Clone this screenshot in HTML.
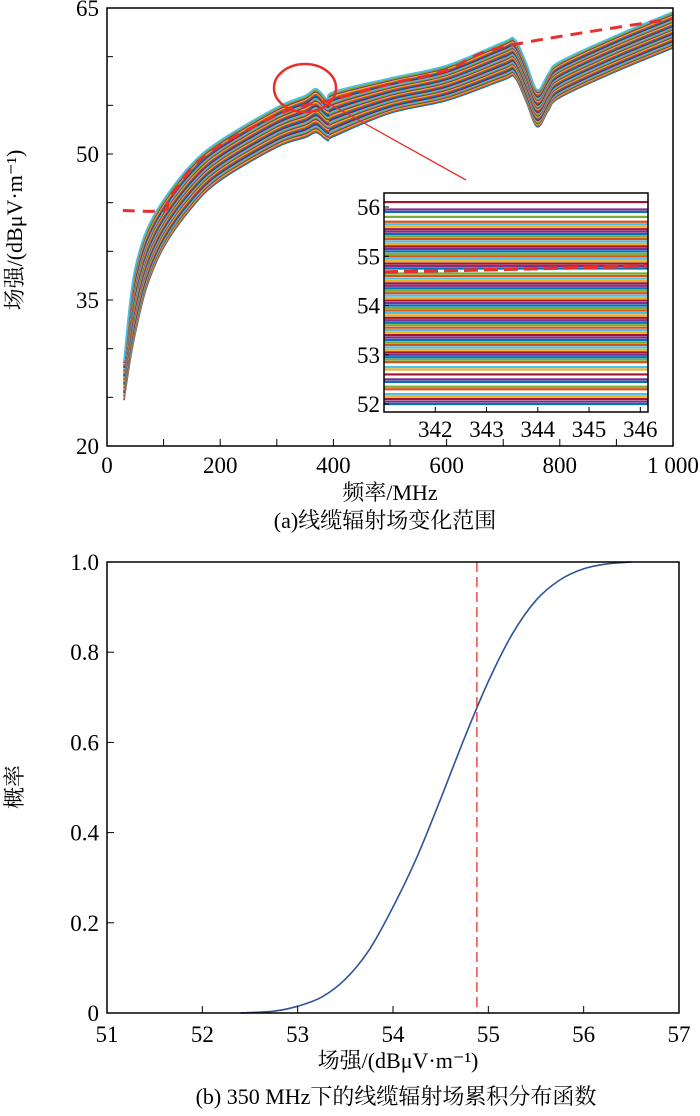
<!DOCTYPE html>
<html><head><meta charset="utf-8">
<style>
html,body{margin:0;padding:0;background:#fff;}
svg{display:block;}
text{font-family:"Liberation Serif","Noto Serif CJK SC",serif;}
</style></head>
<body>
<svg id="fig" width="700" height="1116" viewBox="0 0 700 1116" xmlns="http://www.w3.org/2000/svg" font-family="Liberation Serif, Noto Serif CJK SC, serif">
<g id="top"></g>
<g id="bot"></g>
</svg>
<script>
// ---------- Top chart data ----------
const freqs   = [30,40,50,70,100,150,200,300,350,370,390,400,500,600,700,720,740,760,780,800,900,1000];
const upperDb = [28.8,34.5,38.4,42.2,45.3,49,51.4,54.8,56.0,56.7,55.6,56.4,57.8,59.1,61.5,61.8,59.5,56.6,58.3,59.5,62.2,64.6];
const lowerDb = [24.7,28.5,31.6,36.3,40.4,44.5,47.3,50.7,51.7,52.2,51.4,51.8,54.2,55.5,57.6,57.9,55.5,52.8,54.5,55.8,58.5,60.9];
const curveFractions = [0,0.03,0.06,0.09,0.12,0.15,0.18,0.21,0.24,0.27,0.3,0.33,0.36,0.39,0.42,0.45,0.48,0.51,0.54,0.57,0.6,0.63,0.66,0.69,0.72,0.75,0.78,0.81,0.84,0.87,0.9,0.93,0.96,1];
const meanFreq = [28,100,110,150,200,300,350,400,500,600,700,1000];
const meanDb   = [44.2,44.2,45.4,48.6,50.9,54,55,55.6,57.2,58.6,61.0,63.9];
const yTicks = [20,35,50,65];
const xTicks = [0,200,400,600,800,1000];
const xTickLabels = ["0","200","400","600","800","1 000"];
// inset
const insetLines = [52.0,52.05,52.1,52.15,52.2,52.3,52.35,52.45,52.5,52.6,52.7,52.75,52.85,52.9,52.95,53.0,53.05,53.1,53.15,53.2,53.25,53.3,53.35,53.4,53.45,53.5,53.55,53.6,53.65,53.7,53.75,53.8,53.85,53.9,53.95,54.0,54.05,54.1,54.15,54.2,54.25,54.3,54.35,54.4,54.45,54.5,54.55,54.6,54.65,54.75,54.8,54.85,54.9,54.95,55.0,55.05,55.1,55.15,55.2,55.25,55.3,55.35,55.4,55.45,55.5,55.55,55.6,55.65,55.7,55.8,55.9,55.95,56.1];
const insetMean = [54.68,54.8];
const insetXTicks = [342,343,344,345,346];
const insetYTicks = [52,53,54,55,56];
// ---------- Bottom chart data ----------
const cdfX = [52.4,52.75,53.0,53.25,53.5,53.75,54.0,54.25,54.5,54.75,55.0,55.25,55.5,55.75,56.0,56.25,56.5];
const cdfP = [0,0.004,0.015,0.035,0.075,0.14,0.235,0.345,0.475,0.61,0.735,0.84,0.915,0.96,0.985,0.996,1.0];
const meanLevel = 54.88;
const bXTicks = [51,52,53,54,55,56,57];
const bYTicks = [0,0.2,0.4,0.6,0.8,1.0];
const bYLabels = ["0","0.2","0.4","0.6","0.8","1.0"];

const NS="http://www.w3.org/2000/svg";
const palette=["#0072BD","#D95319","#EDB120","#7E2F8E","#77AC30","#4DBEEE","#A2142F"];
function mk(parent,tag,attrs,text){const e=document.createElementNS(NS,tag);for(const k in attrs)e.setAttribute(k,attrs[k]);if(text!==undefined)e.textContent=text;parent.appendChild(e);return e;}
function crPath(pts){let d="M"+pts[0][0].toFixed(1)+","+pts[0][1].toFixed(1);
 for(let i=0;i<pts.length-1;i++){const p0=pts[Math.max(0,i-1)],p1=pts[i],p2=pts[i+1],p3=pts[Math.min(pts.length-1,i+2)];
  const c1=[p1[0]+(p2[0]-p0[0])/6,p1[1]+(p2[1]-p0[1])/6],c2=[p2[0]-(p3[0]-p1[0])/6,p2[1]-(p3[1]-p1[1])/6];
  d+=" C"+c1[0].toFixed(1)+","+c1[1].toFixed(1)+" "+c2[0].toFixed(1)+","+c2[1].toFixed(1)+" "+p2[0].toFixed(1)+","+p2[1].toFixed(1);}
 return d;}
const FS=23;

// ---------- Top ----------
const T=document.getElementById('top');
const L=107,R=673,Tp=8,B=446;
const xs=f=>L+(f/1000)*(R-L), ys=v=>B-(v-20)/45*(B-Tp);
const curves=mk(T,'g',{});


curveFractions.forEach((fr,i)=>{
 const pts=freqs.map((f,j)=>[xs(f),ys(lowerDb[j]+fr*(upperDb[j]-lowerDb[j]))]);
 const p=mk(curves,'path',{d:crPath(pts),fill:'none',stroke:palette[i%7],'stroke-width':1.6});
 
 
});
const mp=mk(T,'path',{d:crPath(meanFreq.map((f,j)=>[xs(f),ys(meanDb[j])])),fill:'none',stroke:'#E8302A','stroke-width':3,'stroke-dasharray':'12,8'});


mk(T,'rect',{x:L,y:Tp,width:R-L,height:B-Tp,fill:'none',stroke:'#000','stroke-width':1.5,});
for(let v=20;v<=65;v+=5){mk(T,'line',{x1:L,x2:L+6,y1:ys(v),y2:ys(v),stroke:'#000','stroke-width':1});}
yTicks.forEach(v=>{const t=mk(T,'text',{x:L-8,y:ys(v)+8,'text-anchor':'end','font-size':FS},String(v));});
for(let f=0;f<=1000;f+=100){mk(T,'line',{x1:xs(f),x2:xs(f),y1:B,y2:B-7,stroke:'#000','stroke-width':1});}
xTicks.forEach((f,i)=>{const t=mk(T,'text',{x:xs(f),y:B+27,'text-anchor':'middle','font-size':FS},xTickLabels[i]);});
mk(T,'text',{x:0,y:0,transform:'translate(22,230) rotate(-90)','text-anchor':'middle','font-size':22,},'场强/(dBμV·m⁻¹)');
mk(T,'text',{x:390,y:500,'text-anchor':'middle','font-size':22,},'频率/MHz');
mk(T,'text',{x:385,y:528,'text-anchor':'middle','font-size':22,},'(a)线缆辐射场变化范围');
// zoom marker
mk(T,'ellipse',{cx:305,cy:88,rx:31,ry:24,fill:'none',stroke:'#E8302A','stroke-width':2.5,});
mk(T,'line',{x1:328,y1:103,x2:466,y2:180,stroke:'#E8302A','stroke-width':1.3,});
// inset
const IL=384,IR=648,IT=193,IB=412;
const ixs=f=>IL+(f-341.0)*(IR-IL)/5.15, iys=v=>404-(v-52)*49.25;
mk(T,'rect',{x:IL,y:IT,width:IR-IL,height:IB-IT,fill:'#fff',stroke:'none'});
const il=mk(T,'g',{});


insetLines.forEach((v,i)=>{const e=mk(il,'line',{x1:IL,x2:IR,y1:iys(v),y2:iys(v),stroke:palette[(i*3)%7],'stroke-width':2.2});
 
 });
mk(T,'line',{x1:ixs(341.0),x2:ixs(346.15),y1:iys(insetMean[0]),y2:iys(insetMean[1]),stroke:'#E8302A','stroke-width':3.5,'stroke-dasharray':'14,6',});
mk(T,'rect',{x:IL,y:IT,width:IR-IL,height:IB-IT,fill:'none',stroke:'#000','stroke-width':1.5,});
insetYTicks.forEach(v=>{mk(T,'line',{x1:IL,x2:IL+5,y1:iys(v),y2:iys(v),stroke:'#000'});
 const t=mk(T,'text',{x:IL-4,y:iys(v)+8,'text-anchor':'end','font-size':FS},String(v));});
insetXTicks.forEach(v=>{mk(T,'line',{x1:ixs(v),x2:ixs(v),y1:IB,y2:IB-5,stroke:'#000'});
 const t=mk(T,'text',{x:ixs(v),y:IB+25,'text-anchor':'middle','font-size':FS},String(v));});

// ---------- Bottom ----------
const Bg=document.getElementById('bot');
const bL=107,bR=679,bT=562,bB=1013;
const bx=v=>bL+(v-51)/6*(bR-bL), by=p=>bB-p*(bB-bT);
const cp=mk(Bg,'path',{d:crPath(cdfX.map((x,i)=>[bx(x),by(cdfP[i])])),fill:'none',stroke:'#2E5597','stroke-width':1.6});


const ml=mk(Bg,'line',{x1:bx(meanLevel),x2:bx(meanLevel),y1:bT,y2:bB,stroke:'#E8302A','stroke-width':1.3,'stroke-dasharray':'10,5'});


mk(Bg,'rect',{x:bL,y:bT,width:bR-bL,height:bB-bT,fill:'none',stroke:'#000','stroke-width':1.5,});
bXTicks.forEach(v=>{mk(Bg,'line',{x1:bx(v),x2:bx(v),y1:bB,y2:bB-7,stroke:'#000'});
 const t=mk(Bg,'text',{x:bx(v),y:bB+29,'text-anchor':'middle','font-size':FS},String(v));});
bYTicks.forEach((v,i)=>{mk(Bg,'line',{x1:bL,x2:bL+7,y1:by(v),y2:by(v),stroke:'#000'});
 const t=mk(Bg,'text',{x:bL-8,y:by(v)+8,'text-anchor':'end','font-size':FS},bYLabels[i]);});
mk(Bg,'text',{x:0,y:0,transform:'translate(22,787) rotate(-90)','text-anchor':'middle','font-size':22,},'概率');
mk(Bg,'text',{x:398,y:1068,'text-anchor':'middle','font-size':22,},'场强/(dBμV·m⁻¹)');
mk(Bg,'text',{x:396,y:1104,'text-anchor':'middle','font-size':22,},'(b) 350 MHz下的线缆辐射场累积分布函数');
</script>
</body></html>
